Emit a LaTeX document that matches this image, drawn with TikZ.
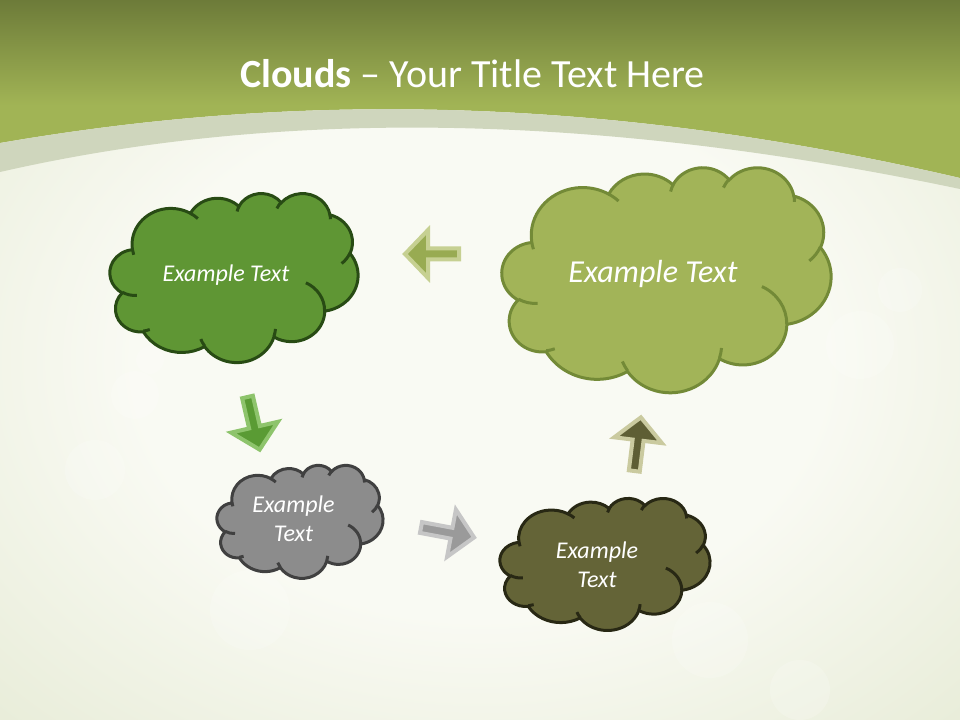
\documentclass[tikz,border=0pt]{standalone}
\usepackage{fontspec}
\setmainfont{Carlito}

\definecolor{headtop}{HTML}{6D7B39}
\definecolor{headgreen}{HTML}{A1B455}
\definecolor{bandgray}{HTML}{CFD6BD}
\definecolor{bginner}{HTML}{F9FAF3}
\definecolor{bgouter}{HTML}{DBE2C4}
\definecolor{leaffill}{HTML}{5F9634}
\definecolor{leafline}{HTML}{284B14}
\definecolor{sagefill}{HTML}{A2B458}
\definecolor{sageline}{HTML}{738A37}
\definecolor{ashfill}{HTML}{8C8C8C}
\definecolor{ashline}{HTML}{404040}
\definecolor{mossfill}{HTML}{646437}
\definecolor{mossline}{HTML}{282814}
\definecolor{sagearrow}{HTML}{98AB52}
\definecolor{sageedge}{HTML}{C6D092}
\definecolor{leafarrow}{HTML}{5A9B34}
\definecolor{leafedge}{HTML}{8EC46C}
\definecolor{asharrow}{HTML}{9A9A9A}
\definecolor{ashedge}{HTML}{C6C6C6}
\definecolor{mossarrow}{HTML}{5E5E34}
\definecolor{mossedge}{HTML}{CACA9F}

\pgfdeclareradialshading{bokehbg}{\pgfpoint{0bp}{0bp}}{color(0bp)=(bginner); color(18bp)=(bginner); color(50bp)=(bgouter)}

% one puff of the cloud, angles as seen (not parametric)
\newcommand\puff[4]{%
  \pgfextra{%
    \pgfmathparse{atan2(#1*sin(#3),#2*cos(#3))}\xdef\puffs{\pgfmathresult}%
    \pgfmathparse{atan2(#1*sin(#3+#4),#2*cos(#3+#4))}\xdef\puffe{\pgfmathresult}%
    \pgfmathparse{mod((\puffe)-(\puffs)+720,360)}\xdef\puffd{\pgfmathresult}}%
  arc[start angle=\puffs, delta angle=\puffd, x radius=#1, y radius=#2]}

% outline of the cloud in a 43.2 x 43.2 box
\newcommand\cloudshape{%
  (3.9,14.37) \puff{6.753}{9.19}{-190.4875}{123.7805}
  \puff{5.333}{7.267}{-144.1024}{89.9452}
  \puff{4.365}{5.945}{-145.8079}{99.723}
  \puff{4.857}{6.595}{-130.9861}{117.2417}
  \puff{5.333}{7.273}{-78.7089}{109.0269}
  \puff{6.775}{9.22}{-46.2673}{130.269}
  \puff{5.785}{7.867}{0.625}{114.0333}
  \puff{6.752}{9.215}{22.4516}{115.1726}
  \puff{7.72}{10.543}{66.2426}{75.711}
  \puff{4.36}{5.918}{-274.9421}{146.7356}
  \puff{4.345}{5.945}{-246.8285}{152.5189} -- cycle}

% inner strokes of the cloud
\newcommand\cloudlines{%
  (4.693,26.177) \puff{4.345}{5.945}{86.742}{26.4295}
  (6.928,34.899) \puff{4.36}{5.918}{73.6105}{11.4475}
  (16.478,39.09) \puff{6.752}{9.215}{137.6242}{14.0811}
  (28.827,34.751) \puff{6.752}{9.215}{6.4533}{15.9984}
  (34.129,22.954) \puff{5.785}{7.867}{-70.2924}{70.9174}
  (41.798,15.354) \puff{5.333}{7.273}{30.318}{27.7515}
  (38.324,5.426) \puff{4.857}{6.595}{-13.7443}{14.8589}
  (29.078,3.952) \puff{4.857}{6.595}{-149.1815}{18.1954}
  (22.141,4.72) \puff{4.365}{5.945}{-163.4943}{17.6864}
  (14,5.192) \puff{6.753}{9.19}{-66.707}{12.3194}
  (4.127,15.789) \puff{6.753}{9.19}{157.6544}{11.8582}}

\newcommand\blockarrow{(0,-5.5) -- (31,-5.5) -- (31,-24) -- (54,0) -- (31,24) -- (31,5.5) -- (0,5.5) -- cycle}

\tikzset{
  leaf/.style={fill=leaffill, draw=leafline, line width=2.25pt},
  sage/.style={fill=sagefill, draw=sageline, line width=2.25pt},
  ash/.style={fill=ashfill, draw=ashline, line width=2.25pt},
  moss/.style={fill=mossfill, draw=mossline, line width=2.25pt},
  cloudtext/.style={text=white, align=center, inner sep=0pt,
    font=\itshape\fontsize{18}{21.6}\selectfont},
  arrowbox/.style={line width=3pt, line join=miter},
}

\begin{document}
\begin{tikzpicture}[x=0.75pt, y=-0.75pt]
  \useasboundingbox (0,0) rectangle (960,720);
  % background
  \shade[shading=bokehbg] (0,0) rectangle (960,720);
  \foreach \bx/\by/\br in {135/395/24, 150/360/14, 95/470/30, 250/610/40,
                           860/345/34, 900/290/22, 710/640/38, 800/690/30}
    \fill[white, opacity=0.18] (\bx,\by) circle (\br);
  \fill[headgreen] (0,0) -- (960,0) -- (960,178)
    .. controls (560,85) and (250,100) .. (0,143) -- cycle;
  \shade[top color=headtop, bottom color=headgreen] (0,0) rectangle (960,105);
  \fill[bandgray] (0,143) .. controls (250,100) and (560,85) .. (960,178)
    -- (960,189) .. controls (560,105) and (250,115) .. (0,172) -- cycle;

  \node[text=white, anchor=base, inner sep=0pt, font=\fontsize{30}{36}\selectfont]
    (title) at (472.5,88) {\textbf{Clouds} – Your Title Text Here};

  % clouds
  \begin{scope}[shift={(110,193)}, x=4.3056pt, y=-2.934pt]
    \filldraw[leaf] \cloudshape;
    \draw[leaf, fill=none] \cloudlines;
  \end{scope}
  \begin{scope}[shift={(502,167)}, x=5.7118pt, y=-3.9062pt]
    \filldraw[sage] \cloudshape;
    \draw[sage, fill=none] \cloudlines;
  \end{scope}
  \begin{scope}[shift={(217,465)}, x=2.8819pt, y=-1.9618pt]
    \filldraw[ash] \cloudshape;
    \draw[ash, fill=none] \cloudlines;
  \end{scope}
  \begin{scope}[shift={(500,498)}, x=3.6458pt, y=-2.2917pt]
    \filldraw[moss] \cloudshape;
    \draw[moss, fill=none] \cloudlines;
  \end{scope}

  \node[cloudtext] (leaftext) at (226,275) {Example Text};
  \node[cloudtext, font=\itshape\fontsize{24}{28.8}\selectfont] (sagetext) at (653,274) {Example Text};
  \node[cloudtext] (ashtext) at (293.5,519) {Example\\Text};
  \node[cloudtext] (mosstext) at (597,565) {Example\\Text};

  % arrows
  \filldraw[arrowbox, fill=sagearrow, draw=sageedge]
    [shift={(459,254)}, rotate=180] \blockarrow;
  \filldraw[arrowbox, fill=leafarrow, draw=leafedge]
    [shift={(247.5,397)}, rotate=-77] \blockarrow;
  \filldraw[arrowbox, fill=asharrow, draw=ashedge]
    [shift={(421,527.5)}, rotate=-10.6] \blockarrow;
  \filldraw[arrowbox, fill=mossarrow, draw=mossedge]
    [shift={(634.3,471)}, rotate=83] \blockarrow;
\end{tikzpicture}
\end{document}
